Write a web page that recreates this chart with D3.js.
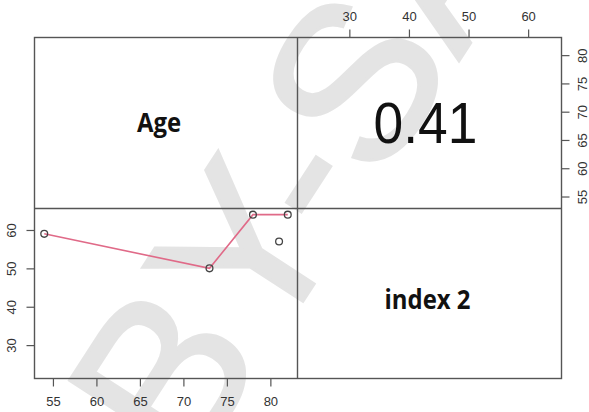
<!DOCTYPE html>
<html>
<head>
<meta charset="utf-8">
<script src="https://cdn.jsdelivr.net/npm/d3@7"></script>
<style>
  html, body { margin: 0; padding: 0; background: #fff; }
  svg { display: block; }
</style>
</head>
<body>
<script>
// Scatterplot-matrix data: two variables, five observations
const variables = ["Age", "index 2"];
const age = [54, 73, 78, 82, 81];
const index2 = [59, 50, 64, 64, 57];
// Smoothed trend drawn in the lower panel
const trendAge = [54, 73, 78, 82];
const trendIndex2 = [59, 50, 64, 64];
// Correlation printed in the upper panel
const correlation = ["0.41"];
// Axis ranges and tick values
const ageRange = [52.88, 83.12];
const index2Range = [21.3, 65.6];
const ageTicks = [55, 60, 65, 70, 75, 80];
const index2Ticks = [30, 40, 50, 60];

const W = 589, H = 412;
const L = 34.5, M = 297.5, R = 561.5;   // panel column edges
const T = 37.5, C = 208.5, B = 378.5;   // panel row edges

const svg = d3.select("body").append("svg")
  .attr("width", W).attr("height", H)
  .style("font-family", "'Liberation Sans', Arial, sans-serif");

// Licence watermark behind the plot
svg.append("text")
  .attr("transform", "translate(299,166) rotate(-57)")
  .attr("text-anchor", "middle")
  .attr("dominant-baseline", "central")
  .attr("font-size", 222)
  .attr("fill", "#e4e4e4")
  .attr("stroke", "#e4e4e4")
  .attr("stroke-width", 3)
  .text("BY-SA");

const xAge = d3.scaleLinear().domain(ageRange).range([L, M]);
const yIdx = d3.scaleLinear().domain(index2Range).range([B, C]);
const xIdx = d3.scaleLinear().domain(index2Range).range([M, R]);
const yAge = d3.scaleLinear().domain(ageRange).range([C, T]);

const tickColor = "#555";

function styleAxis(g) {
  g.select(".domain").remove();
  g.selectAll(".tick line").attr("stroke", tickColor).attr("stroke-width", 1.2);
  g.selectAll(".tick text").attr("fill", "#333").attr("font-size", 13)
    .attr("font-family", "'Liberation Sans', Arial, sans-serif");
}

// Bottom axis: Age
svg.append("g").attr("transform", `translate(0,${B})`)
  .call(d3.axisBottom(xAge).tickValues(ageTicks).tickSize(8).tickSizeOuter(0).tickPadding(10))
  .call(styleAxis);

// Left axis: index 2 (labels rotated)
svg.append("g").attr("transform", `translate(${L},0)`)
  .call(d3.axisLeft(yIdx).tickValues(index2Ticks).tickSize(8).tickSizeOuter(0))
  .call(styleAxis)
  .call(g => g.selectAll(".tick text")
    .attr("x", null).attr("dy", null)
    .attr("text-anchor", "middle")
    .attr("transform", "translate(-23,0) rotate(-90)")
    .attr("dy", "0.35em"));

// Top axis: index 2
svg.append("g").attr("transform", `translate(0,${T})`)
  .call(d3.axisTop(xIdx).tickValues(index2Ticks).tickSize(8).tickSizeOuter(0).tickPadding(9))
  .call(styleAxis);

// Right axis: Age (labels rotated)
svg.append("g").attr("transform", `translate(${R},0)`)
  .call(d3.axisRight(yAge).tickValues(ageTicks).tickSize(8).tickSizeOuter(0))
  .call(styleAxis)
  .call(g => g.selectAll(".tick text")
    .attr("x", null).attr("dy", null)
    .attr("text-anchor", "middle")
    .attr("transform", "translate(21,0) rotate(-90)")
    .attr("dy", "0.35em"));

// Trend line and observations in the lower-left panel
const trend = trendAge.map((a, i) => [a, trendIndex2[i]]);
svg.append("path")
  .datum(trend)
  .attr("fill", "none")
  .attr("stroke", "#e06a88")
  .attr("stroke-width", 1.6)
  .attr("d", d3.line().x(d => xAge(d[0])).y(d => yIdx(d[1])));

svg.append("g").selectAll("circle")
  .data(age.map((a, i) => [a, index2[i]]))
  .join("circle")
  .attr("cx", d => xAge(d[0]))
  .attr("cy", d => yIdx(d[1]))
  .attr("r", 3.4)
  .attr("fill", "none")
  .attr("stroke", "#444")
  .attr("stroke-width", 1.3);

// Panel borders
const frame = svg.append("g").attr("fill", "none").attr("stroke", "#555").attr("stroke-width", 1.4);
frame.append("rect").attr("x", L).attr("y", T).attr("width", R - L).attr("height", B - T);
frame.append("line").attr("x1", M).attr("x2", M).attr("y1", T).attr("y2", B);
frame.append("line").attr("x1", L).attr("x2", R).attr("y1", C).attr("y2", C);

// Diagonal variable names
const labelFont = "'Open Sans', 'Lato', sans-serif";
svg.append("text")
  .attr("transform", "translate(159,132) scale(0.92,1)")
  .attr("text-anchor", "middle")
  .attr("font-family", labelFont).attr("font-weight", "bold")
  .attr("font-size", 26).attr("fill", "#111")
  .text(variables[0]);
svg.append("text")
  .attr("transform", "translate(427.5,309) scale(0.92,1)")
  .attr("text-anchor", "middle")
  .attr("font-family", labelFont).attr("font-weight", "bold")
  .attr("font-size", 26).attr("fill", "#111")
  .text(variables[1]);

// Correlation in the upper-right panel
svg.append("text")
  .attr("transform", "translate(425.5,143.3) scale(0.92,1)")
  .attr("text-anchor", "middle")
  .attr("font-size", 58).attr("fill", "#111")
  .text(correlation[0]);
</script>
</body>
</html>
